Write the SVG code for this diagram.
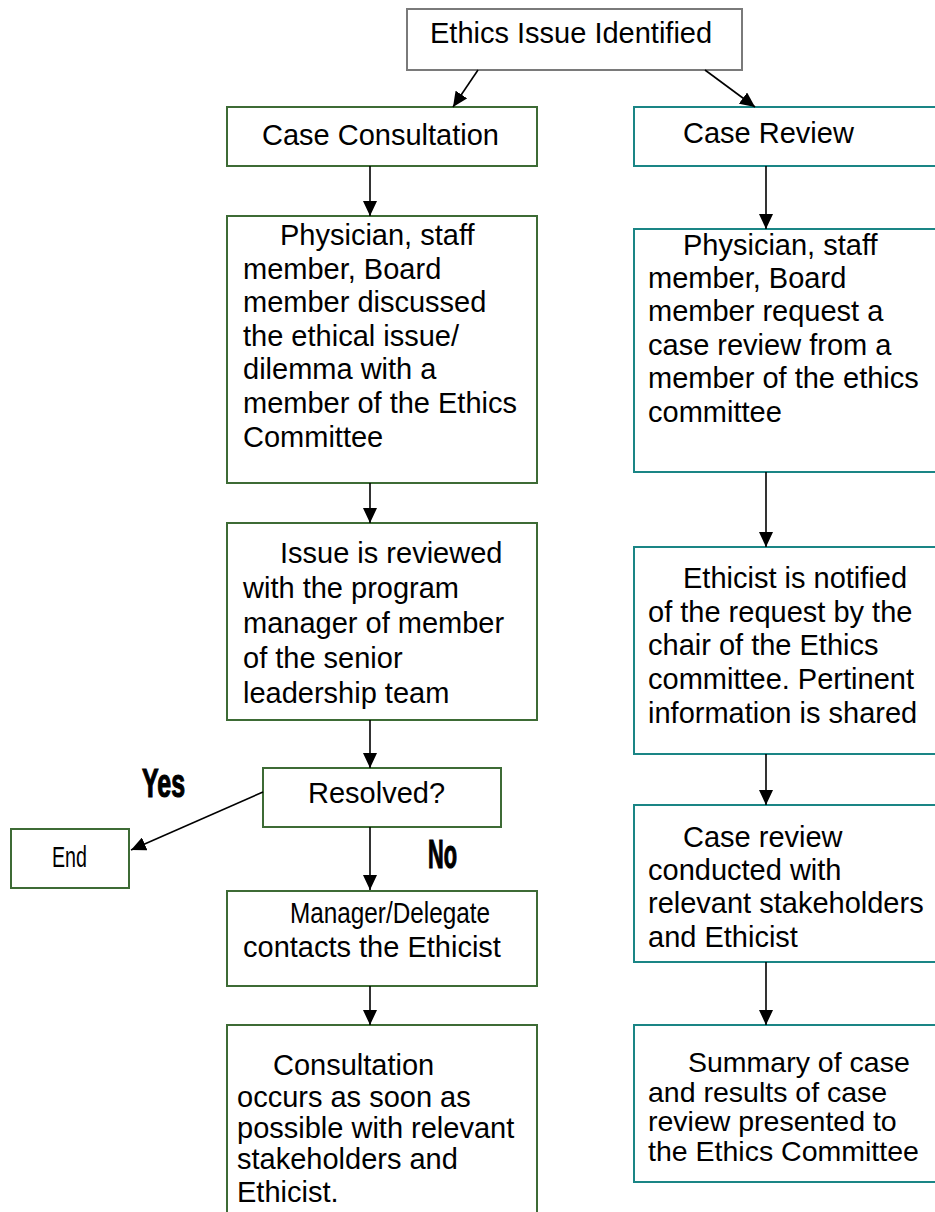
<svg xmlns="http://www.w3.org/2000/svg" width="935" height="1212" viewBox="0 0 935 1212">
<style>
text{font-family:"Liberation Sans",Arial,sans-serif;font-size:29px;fill:#000}
.g{fill:#fff;stroke:#3d6b35;stroke-width:2}
.t{fill:#fff;stroke:#1a8585;stroke-width:2}
.k{fill:#fff;stroke:#7a7a7a;stroke-width:2}
.n{font-family:"Liberation Sans Narrow","Liberation Sans",sans-serif}
.b{font-family:"Liberation Sans Narrow","Liberation Sans",sans-serif;font-weight:bold;font-size:40px;stroke:#000;stroke-width:1.2}
.s{font-size:28.5px}
.c line{stroke:#000;stroke-width:1.6;marker-end:url(#ah)}
</style>
<defs>
<marker id="ah" markerUnits="userSpaceOnUse" markerWidth="16" markerHeight="14" refX="15" refY="7" orient="auto">
<path d="M0,0 L15,7 L0,14 z" fill="#000"/>
</marker>
</defs>
<rect width="935" height="1212" fill="#fff"/>
<g id="top"><rect class="k" x="407" y="9" width="335" height="61"/><text x="430" y="43">Ethics Issue Identified</text></g>
<g id="caseConsultation"><rect class="g" x="227" y="107" width="310" height="59"/><text x="262" y="145">Case Consultation</text></g>
<g id="caseReview"><rect class="t" x="634" y="107" width="310" height="59"/><text x="683" y="143">Case Review</text></g>
<g id="physicianLeft"><rect class="g" x="227" y="216" width="310" height="267"/>
<text x="280" y="245">Physician, staff</text>
<text x="243" y="278.6">member, Board</text>
<text x="243" y="312.2">member discussed</text>
<text x="243" y="345.8">the ethical issue/</text>
<text x="243" y="379.4">dilemma with a</text>
<text x="243" y="413">member of the Ethics</text>
<text x="243" y="446.6">Committee</text></g>
<g id="issueReviewed"><rect class="g" x="227" y="523" width="310" height="197"/>
<text x="280" y="563">Issue is reviewed</text>
<text x="243" y="598">with the program</text>
<text x="243" y="633">manager of member</text>
<text x="243" y="668">of the senior</text>
<text x="243" y="703">leadership team</text></g>
<g id="resolved"><rect class="g" x="263" y="768" width="238" height="59"/><text x="308" y="803">Resolved?</text></g>
<g id="end"><rect class="g" x="11" y="829" width="118" height="59"/><text class="n" x="52" y="867" textLength="35" lengthAdjust="spacingAndGlyphs">End</text></g>
<g id="manager"><rect class="g" x="227" y="891" width="310" height="95"/>
<text class="n" x="290" y="923" textLength="200" lengthAdjust="spacingAndGlyphs">Manager/Delegate</text>
<text x="243" y="957">contacts the Ethicist</text></g>
<g id="consultationOccurs"><rect class="g" x="227" y="1025" width="310" height="200"/>
<text x="273" y="1075">Consultation</text>
<text x="237" y="1107">occurs as soon as</text>
<text x="237" y="1138">possible with relevant</text>
<text x="237" y="1169">stakeholders and</text>
<text x="237" y="1202">Ethicist.</text></g>
<g id="physicianRight"><rect class="t" x="634" y="229" width="310" height="243"/>
<text x="683" y="255">Physician, staff</text>
<text x="648" y="288">member, Board</text>
<text x="648" y="321">member request a</text>
<text x="648" y="355">case review from a</text>
<text x="648" y="388">member of the ethics</text>
<text x="648" y="422">committee</text></g>
<g id="ethicistNotified"><rect class="t" x="634" y="547" width="310" height="207"/>
<text x="683" y="588">Ethicist is notified</text>
<text x="648" y="622">of the request by the</text>
<text x="648" y="655">chair of the Ethics</text>
<text x="648" y="689">committee. Pertinent</text>
<text x="648" y="723">information is shared</text></g>
<g id="caseReviewConducted"><rect class="t" x="634" y="805" width="310" height="157"/>
<text x="683" y="847">Case review</text>
<text x="648" y="880">conducted with</text>
<text x="648" y="913">relevant stakeholders</text>
<text x="648" y="947">and Ethicist</text></g>
<g id="summary"><rect class="t" x="634" y="1025" width="310" height="157"/>
<text class="s" x="688" y="1072">Summary of case</text>
<text class="s" x="648" y="1101.5">and results of case</text>
<text class="s" x="648" y="1131">review presented to</text>
<text class="s" x="648" y="1160.5">the Ethics Committee</text></g>
<g id="labels">
<text class="b" x="142" y="797" textLength="43" lengthAdjust="spacingAndGlyphs">Yes</text>
<text class="b" x="428" y="868" textLength="29" lengthAdjust="spacingAndGlyphs">No</text>
</g>
<g id="connectors" class="c">
<line x1="478" y1="70" x2="453" y2="107"/>
<line x1="705" y1="70" x2="755" y2="107"/>
<line x1="370" y1="166" x2="370" y2="216"/>
<line x1="370" y1="483" x2="370" y2="523"/>
<line x1="370" y1="720" x2="370" y2="768"/>
<line x1="370" y1="827" x2="370" y2="890"/>
<line x1="370" y1="986" x2="370" y2="1025"/>
<line x1="263" y1="792" x2="131" y2="850"/>
<line x1="766" y1="166" x2="766" y2="229"/>
<line x1="766" y1="472" x2="766" y2="547"/>
<line x1="766" y1="754" x2="766" y2="805"/>
<line x1="766" y1="962" x2="766" y2="1025"/>
</g>
</svg>
